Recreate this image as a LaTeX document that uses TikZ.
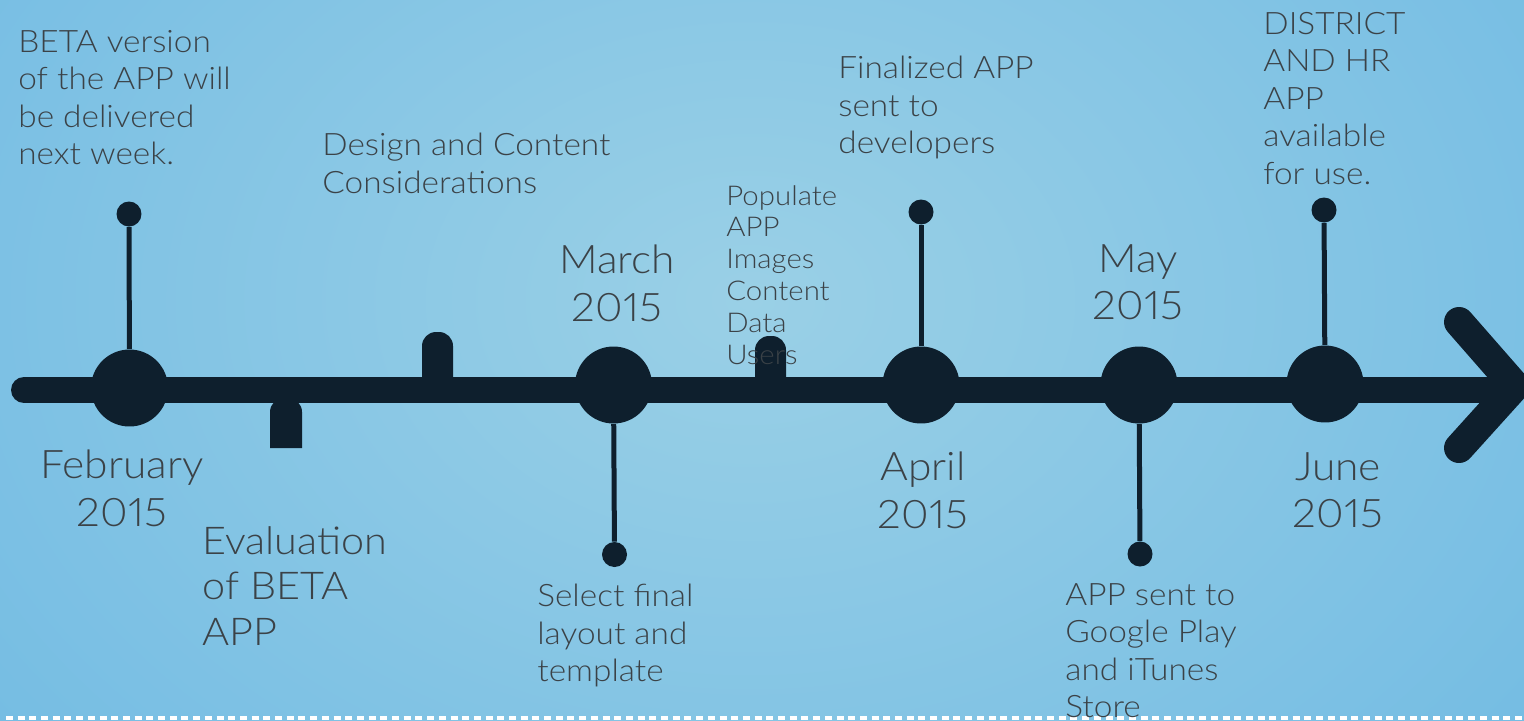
\documentclass[tikz,border=0pt]{standalone}
\usepackage{fontspec}
\setmainfont{Lato}[UprightFont={* Light},FakeStretch=1.08,Numbers=Proportional]
\definecolor{navy}{HTML}{0E1F2D}
\definecolor{txt}{HTML}{3B4247}
\definecolor{bgin}{HTML}{9AD0E6}
\definecolor{bgout}{HTML}{66B5E2}
\begin{document}
\begin{tikzpicture}[x=0.02cm,y=-0.02cm,
  big/.style={circle,fill=navy,minimum size=1.54cm,inner sep=0},
  small/.style={circle,fill=navy,minimum size=0.5cm,inner sep=0},
  stem/.style={draw=navy,line width=0.1cm},
  mainline/.style={draw=navy,line width=0.52cm,line cap=round},
  arm/.style={draw=navy,line width=0.6cm,line cap=round,line join=miter},
  tab/.style={fill=navy},
  lbl/.style={text=txt,inner sep=0,anchor=north west,align=left,font=\fontsize{17.6}{21.3}\selectfont},
  mlbl/.style={text=txt,inner sep=0,anchor=north,align=center,font=\fontsize{22.4}{27.2}\selectfont}
]
\useasboundingbox (0,0) rectangle (1524,720);
\clip (0,0) rectangle (1524,720);
\shade[inner color=bgin,outer color=bgout] (-600,-700) rectangle (2100,1300);
\draw[white,line width=0.07cm,dash pattern=on 0.14cm off 0.094cm] (6,718) -- (1524,718);

% tabs
\fill[tab] (422,392) [rounded corners=0.28cm] -- (422,332) -- (453,332) [sharp corners] -- (453,392) -- cycle;
\fill[tab] (755,392) [rounded corners=0.28cm] -- (755,336) -- (786,336) [sharp corners] -- (786,392) -- cycle;
\fill[tab] (270,448) [rounded corners=0.28cm] -- (270,398) -- (302,398) [sharp corners] -- (302,448) -- cycle;

% main line and arrow
\coordinate (start) at (24,390);
\coordinate (tip) at (1515,386);
\coordinate (end) at (1505,390);
\coordinate (au) at (1459,322);
\coordinate (ad) at (1459,448);
\draw[mainline] (start) -- (end);
\draw[arm] (au) -- (tip) -- (ad);

% milestones
\node[big] (feb) at (129.5,388) {};
\node[big] (mar) at (613.5,385) {};
\node[big] (apr) at (921,385) {};
\node[big] (may) at (1139,385) {};
\node[big] (jun) at (1325,384) {};
\node[small] (febd) at (129,214) {};
\node[small] (mard) at (614.5,554.5) {};
\node[small] (aprd) at (921,212) {};
\node[small] (mayd) at (1140,554) {};
\node[small] (jund) at (1324,210) {};
\draw[stem] (feb) -- (febd);
\draw[stem] (mar) -- (mard);
\draw[stem] (apr) -- (aprd);
\draw[stem] (may) -- (mayd);
\draw[stem] (jun) -- (jund);

% texts
\node[lbl] (t1) at (18,30) {BETA version\\of the APP will\\be delivered\\next week.};
\node[lbl] (t2) at (322,133) {Design and Content\\Considerations};
\node[lbl,font=\fontsize{15.5}{18.1}\selectfont] (t3) at (726,185) {Populate\\APP\\Images\\Content\\Data\\Users};
\node[lbl] (t4) at (838,56) {Finalized APP\\sent to\\developers};
\node[lbl] (t5) at (1263,12) {DISTRICT\\AND HR\\APP\\available\\for use.};
\node[lbl,font=\fontsize{21.8}{26}\selectfont] (t6) at (202,526) {Evaluation\\of BETA\\APP};
\node[lbl] (t7) at (537,584) {Select final\\layout and\\template};
\node[lbl] (t8) at (1065,583) {APP sent to\\Google Play\\and iTunes\\Store};

\node[mlbl] (m1) at (122,450) {February\\2015};
\node[mlbl] (m2) at (617,245) {March\\2015};
\node[mlbl] (m3) at (1138,244) {May\\2015};
\node[mlbl] (m4) at (923,452) {April\\2015};
\node[mlbl] (m5) at (1338,452) {June\\2015};
\end{tikzpicture}
\end{document}
